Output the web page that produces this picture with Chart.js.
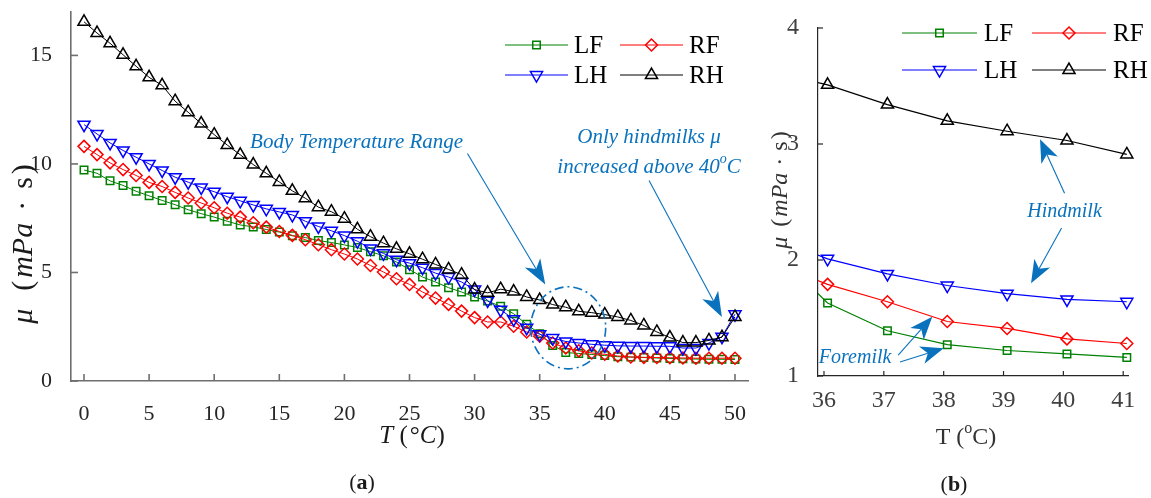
<!DOCTYPE html>
<html>
<head>
<meta charset="utf-8">
<script src="https://cdn.jsdelivr.net/npm/chart.js@4"></script>
<style>
  body { margin: 0; background: #fff; width: 1151px; height: 498px; position: relative; overflow: hidden; }
  #chartA { position: absolute; left: 0; top: 0; }
  #chartB { position: absolute; left: 770px; top: 0; }
</style>
</head>
<body>
<canvas id="chartA" width="770" height="498"></canvas>
<canvas id="chartB" width="381" height="498"></canvas>
<script>
// (a) full range, 0..50 degC
const temps = [0, 1, 2, 3, 4, 5, 6, 7, 8, 9, 10, 11, 12, 13, 14, 15, 16, 17, 18, 19, 20,
  21, 22, 23, 24, 25, 26, 27, 28, 29, 30, 31, 32, 33, 34, 35, 36, 37, 38, 39, 40,
  41, 42, 43, 44, 45, 46, 47, 48, 49, 50];
const lfVisc = [9.72, 9.57, 9.22, 9.01, 8.74, 8.53, 8.32, 8.12, 7.89, 7.71,
  7.55, 7.36, 7.19, 7.10, 6.98, 6.86, 6.69, 6.61, 6.47, 6.38,
  6.27, 6.15, 5.96, 5.77, 5.48, 5.13, 4.79, 4.56, 4.30, 4.10,
  3.87, 3.68, 3.44, 3.10, 2.61, 2.18, 1.64, 1.31, 1.27, 1.22,
  1.17, 1.12, 1.10, 1.08, 1.06, 1.04, 1.02, 1.01, 1.00, 1.00, 0.99];
const rfVisc = [10.81, 10.43, 10.05, 9.74, 9.47, 9.15, 8.96, 8.69, 8.43, 8.20,
  7.98, 7.73, 7.55, 7.29, 7.09, 6.89, 6.71, 6.51, 6.28, 6.05,
  5.85, 5.62, 5.32, 5.02, 4.71, 4.45, 4.10, 3.82, 3.53, 3.22,
  2.92, 2.72, 2.72, 2.52, 2.26, 2.06, 1.75, 1.52, 1.39, 1.29,
  1.23, 1.15, 1.11, 1.09, 1.08, 1.07, 1.06, 1.05, 1.05, 1.05, 1.05];
const lhVisc = [11.81, 11.38, 10.97, 10.62, 10.31, 10.00, 9.70, 9.39, 9.16, 8.92,
  8.72, 8.49, 8.30, 8.11, 7.93, 7.79, 7.65, 7.36, 7.12, 6.92,
  6.70, 6.44, 6.11, 5.88, 5.59, 5.43, 5.22, 4.97, 4.79, 4.56,
  4.21, 3.71, 3.28, 2.85, 2.45, 2.15, 1.98, 1.82, 1.75, 1.69,
  1.65, 1.62, 1.61, 1.61, 1.60, 1.60, 1.52, 1.52, 1.75, 2.04, 3.08];
const rhVisc = [16.55, 16.03, 15.56, 15.03, 14.50, 13.99, 13.62, 12.89, 12.38, 11.86,
  11.35, 10.87, 10.42, 9.97, 9.57, 9.17, 8.76, 8.42, 8.01, 7.80,
  7.48, 6.99, 6.65, 6.35, 6.09, 5.86, 5.61, 5.37, 5.14, 4.90,
  4.21, 4.06, 4.23, 4.12, 3.87, 3.73, 3.52, 3.40, 3.21, 3.15,
  3.06, 2.95, 2.79, 2.56, 2.26, 2.00, 1.77, 1.77, 1.87, 2.02, 2.95];
const xTicksA = [0, 5, 10, 15, 20, 25, 30, 35, 40, 45, 50];
const yTicksA = [0, 5, 10, 15];

// (b) body temperature range (first point sits left of the axis, clipped)
const zoomTemps = [35.06, 36.06, 37.06, 38.06, 39.06, 40.06, 41.06];
const zoomLF = [2.13, 1.63, 1.39, 1.27, 1.22, 1.19, 1.16];
const zoomRF = [1.99, 1.79, 1.64, 1.47, 1.41, 1.32, 1.28];
const zoomLH = [2.21, 2.01, 1.88, 1.78, 1.71, 1.66, 1.64];
const zoomRH = [3.63, 3.51, 3.34, 3.20, 3.11, 3.03, 2.91];
const xTicksB = [36, 37, 38, 39, 40, 41];
const yTicksB = [1, 2, 3, 4];

const seriesNames = ['LF', 'RF', 'LH', 'RH'];
const colors = ['#008000', '#ff0000', '#0000ff', '#000000'];
const styles = ['rect', 'rectRot', 'triangle', 'triangle'];
const rotations = [0, 0, 180, 0];
const radii = [5.3, 6, 7, 7];

const serif = '"Liberation Serif", serif';
const annBlue = '#0a72bd';

function pairs(xs, ys) { return xs.map((x, i) => ({ x: x, y: ys[i] })); }

function makeSets(xs, lists, lw, clip) {
  return lists.map((ys, i) => ({
    label: seriesNames[i],
    data: pairs(xs, ys),
    borderColor: colors[i],
    borderWidth: lw,
    pointStyle: styles[i],
    pointRotation: rotations[i],
    pointRadius: radii[i],
    pointBorderWidth: 1.5,
    pointBorderColor: colors[i],
    pointBackgroundColor: 'rgba(0,0,0,0)',
    tension: 0,
    order: 3 - i,
    clip: clip
  }));
}

function richText(ctx, parts, cx, cy, rot, color) {
  ctx.save();
  ctx.translate(cx, cy);
  if (rot) ctx.rotate(rot);
  ctx.textBaseline = 'middle';
  ctx.textAlign = 'left';
  let w = 0;
  parts.forEach(p => { ctx.font = p.f; p.w = ctx.measureText(p.t).width + (p.sp || 0); w += p.w; });
  let x = -w / 2;
  parts.forEach(p => {
    ctx.font = p.f;
    ctx.fillStyle = color;
    ctx.fillText(p.t, x, p.dy || 0);
    x += p.w;
  });
  ctx.restore();
}

function arrow(ctx, x1, y1, x2, y2, L, W) {
  const a = Math.atan2(y2 - y1, x2 - x1);
  const ca = Math.cos(a), sa = Math.sin(a);
  const bx = x2 - ca * L * 0.72, by = y2 - sa * L * 0.72;
  ctx.beginPath();
  ctx.moveTo(x1, y1);
  ctx.lineTo(bx, by);
  ctx.stroke();
  ctx.beginPath();
  ctx.moveTo(x2, y2);
  ctx.lineTo(x2 - ca * L - sa * W, y2 - sa * L + ca * W);
  ctx.lineTo(bx, by);
  ctx.lineTo(x2 - ca * L + sa * W, y2 - sa * L - ca * W);
  ctx.closePath();
  ctx.fill();
}

function marker(ctx, ds, x, y) {
  ctx.save();
  ctx.strokeStyle = ds.borderColor;
  ctx.fillStyle = 'rgba(0,0,0,0)';
  ctx.lineWidth = ds.pointBorderWidth;
  Chart.helpers.drawPoint(ctx, {
    pointStyle: ds.pointStyle, rotation: ds.pointRotation,
    radius: ds.pointRadius, borderWidth: ds.pointBorderWidth
  }, x, y);
  ctx.restore();
}

// inward ticks, legend, titles and annotations
function decoPlugin(cfg) {
  return {
    id: 'deco',
    afterDraw(chart) {
      const ctx = chart.ctx;
      const xs = chart.scales.x, ys = chart.scales.y;
      const area = chart.chartArea;
      const P = (x, y) => [xs.getPixelForValue(x), ys.getPixelForValue(y)];

      ctx.save();
      ctx.strokeStyle = cfg.axisColor;
      ctx.lineWidth = cfg.axisWidth;
      xs.ticks.forEach(t => {
        const px = xs.getPixelForValue(t.value);
        ctx.beginPath(); ctx.moveTo(px, area.bottom); ctx.lineTo(px, area.bottom - cfg.tickLen); ctx.stroke();
      });
      ys.ticks.forEach(t => {
        const py = ys.getPixelForValue(t.value);
        ctx.beginPath(); ctx.moveTo(area.left, py); ctx.lineTo(area.left + cfg.tickLen, py); ctx.stroke();
      });
      ctx.restore();

      // legend, 2 x 2
      chart.data.datasets.forEach((ds, i) => {
        const col = cfg.legend.cols[i % 2];
        const y = cfg.legend.rows[Math.floor(i / 2)];
        ctx.save();
        ctx.strokeStyle = ds.borderColor;
        ctx.lineWidth = ds.borderWidth;
        ctx.beginPath(); ctx.moveTo(col.x0, y); ctx.lineTo(col.x1, y); ctx.stroke();
        ctx.restore();
        marker(ctx, ds, (col.x0 + col.x1) / 2, y);
        ctx.save();
        ctx.font = cfg.legend.font;
        ctx.fillStyle = '#000';
        ctx.textBaseline = 'middle';
        ctx.fillText(ds.label, col.tx, y + 1);
        ctx.restore();
      });

      cfg.titles.forEach(t => richText(ctx, t.parts, t.x, t.y, t.rot, t.color || '#1a1a1a'));

      // annotations in data units
      ctx.save();
      ctx.strokeStyle = annBlue;
      ctx.fillStyle = annBlue;
      ctx.lineWidth = 1.1;
      cfg.arrows.forEach(a => {
        const s = P(a.from[0], a.from[1]), e = P(a.to[0], a.to[1]);
        arrow(ctx, s[0], s[1], e[0], e[1], a.L, a.W);
      });
      if (cfg.ellipse) {
        const c = P(cfg.ellipse.c[0], cfg.ellipse.c[1]);
        const rx = Math.abs(xs.getPixelForValue(cfg.ellipse.c[0] + cfg.ellipse.dx) - c[0]);
        const ry = Math.abs(ys.getPixelForValue(cfg.ellipse.c[1] + cfg.ellipse.dy) - c[1]);
        ctx.setLineDash([9, 4, 2, 4]);
        ctx.lineWidth = 1.6;
        ctx.beginPath(); ctx.ellipse(c[0], c[1], rx, ry, 0, 0, Math.PI * 2); ctx.stroke();
        ctx.setLineDash([]);
      }
      ctx.restore();
      cfg.notes.forEach(n => {
        const p = P(n.at[0], n.at[1]);
        richText(ctx, n.parts, p[0], p[1], 0, annBlue);
      });
    }
  };
}

function scaleOpts(min, max, tickVals, fitSize, isX, fontSize, color, axisColor, axisWidth, pad) {
  return {
    type: 'linear', min: min, max: max,
    afterBuildTicks: s => { s.ticks = tickVals.map(v => ({ value: v })); },
    afterFit: s => {
      if (isX) s.height = fitSize; else s.width = fitSize;
      s.paddingTop = 0; s.paddingBottom = 0; s.paddingLeft = 0; s.paddingRight = 0;
    },
    grid: { display: false },
    border: { display: true, color: axisColor, width: axisWidth },
    ticks: { font: { family: serif, size: fontSize }, color: color, padding: pad }
  };
}

const it = sz => 'italic ' + sz + 'px ' + serif;
const rm = sz => sz + 'px ' + serif;
const bd = sz => 'bold ' + sz + 'px ' + serif;

new Chart(document.getElementById('chartA'), {
  type: 'line',
  data: { datasets: makeSets(temps, [lfVisc, rfVisc, lhVisc, rhVisc], 1, { left: 10, top: 10, right: 10, bottom: 10 }) },
  options: {
    responsive: false, animation: false,
    layout: { padding: { left: 0, top: 12, right: 22, bottom: 0 } },
    plugins: { legend: { display: false }, tooltip: { enabled: false } },
    scales: {
      x: scaleOpts(-1, 51, xTicksA, 117, true, 22, '#262626', '#6e6e6e', 1.6, 12),
      y: scaleOpts(0, 17, yTicksA, 71, false, 22, '#262626', '#6e6e6e', 1.6, 11)
    }
  },
  plugins: [decoPlugin({
    axisColor: '#6e6e6e', axisWidth: 1.6, tickLen: 7,
    legend: { font: rm(25), rows: [45, 75], cols: [{ x0: 505, x1: 568, tx: 574 }, { x0: 620, x1: 683, tx: 689 }] },
    titles: [
      { x: 412, y: 436, parts: [{ t: 'T', f: it(25) }, { t: ' (', f: rm(25), sp: 2 }, { t: '°', f: rm(25) }, { t: 'C', f: it(25) }, { t: ')', f: rm(25) }] },
      { x: 24, y: 244, rot: -Math.PI / 2, parts: [
        { t: 'μ', f: it(30), sp: 18 }, { t: '(', f: rm(30), sp: 3 }, { t: 'mPa', f: it(30), sp: 12 },
        { t: '·', f: rm(30), sp: 12 }, { t: 's', f: rm(30), sp: 3 }, { t: ')', f: rm(30) }] },
      { x: 362, y: 483, parts: [{ t: '(', f: rm(22) }, { t: 'a', f: bd(22) }, { t: ')', f: rm(22) }] }
    ],
    arrows: [
      { from: [29.45, 10.48], to: [35.43, 4.45], L: 25, W: 9 },
      { from: [43.4, 9.24], to: [49.0, 2.95], L: 25, W: 9 }
    ],
    ellipse: { c: [37.19, 2.45], dx: 2.88, dy: 1.89 },
    notes: [
      { at: [20.94, 10.98], parts: [{ t: 'Body Temperature Range', f: it(21) }] },
      { at: [43.4, 11.21], parts: [{ t: 'Only hindmilks ', f: it(21) }, { t: 'μ', f: it(21) }] },
      { at: [43.4, 9.83], parts: [{ t: 'increased above 40', f: it(21) }, { t: 'o', f: it(14), dy: -8 }, { t: 'C', f: it(21) }] }
    ]
  })]
});

new Chart(document.getElementById('chartB'), {
  type: 'line',
  data: { datasets: makeSets(zoomTemps, [zoomLF, zoomRF, zoomLH, zoomRH], 1.2, { left: 0, top: 10, right: 10, bottom: 10 }) },
  options: {
    responsive: false, animation: false,
    layout: { padding: { left: 0, top: 28, right: 23, bottom: 0 } },
    plugins: { legend: { display: false }, tooltip: { enabled: false } },
    scales: {
      x: scaleOpts(35.9, 41.08, xTicksB, 122, true, 24, '#404040', '#262626', 1.2, 2),
      y: scaleOpts(1, 4, yTicksB, 48, false, 24, '#404040', '#262626', 1.2, 11)
    }
  },
  plugins: [decoPlugin({
    axisColor: '#262626', axisWidth: 1.2, tickLen: 5,
    legend: { font: rm(25), rows: [33, 70], cols: [{ x0: 132, x1: 207, tx: 214 }, { x0: 262, x1: 336, tx: 343 }] },
    titles: [
      { x: 196, y: 438, parts: [{ t: 'T (', f: rm(24) }, { t: 'o', f: rm(16), dy: -9 }, { t: 'C)', f: rm(24) }], color: '#333' },
      { x: 11, y: 190, rot: -Math.PI / 2, parts: [
        { t: 'μ', f: it(24), sp: 10 }, { t: '(', f: rm(24), sp: 2 }, { t: 'mPa', f: it(24), sp: 7 },
        { t: '·', f: rm(24), sp: 7 }, { t: 's', f: rm(24), sp: 2 }, { t: ')', f: rm(24) }], color: '#333' },
      { x: 184, y: 485, parts: [{ t: '(', f: rm(22) }, { t: 'b', f: bd(22) }, { t: ')', f: rm(22) }] }
    ],
    arrows: [
      { from: [40.02, 2.575], to: [39.61, 3.04], L: 23, W: 9 },
      { from: [39.97, 2.276], to: [39.46, 1.80], L: 23, W: 9 },
      { from: [37.24, 1.18], to: [37.81, 1.51], L: 23, W: 9 },
      { from: [37.27, 1.12], to: [38.0, 1.24], L: 23, W: 9 }
    ],
    ellipse: null,
    notes: [
      { at: [40.02, 2.42], parts: [{ t: 'Hindmilk', f: it(20) }] },
      { at: [36.52, 1.155], parts: [{ t: 'Foremilk', f: it(20) }] }
    ]
  })]
});
</script>
</body>
</html>
